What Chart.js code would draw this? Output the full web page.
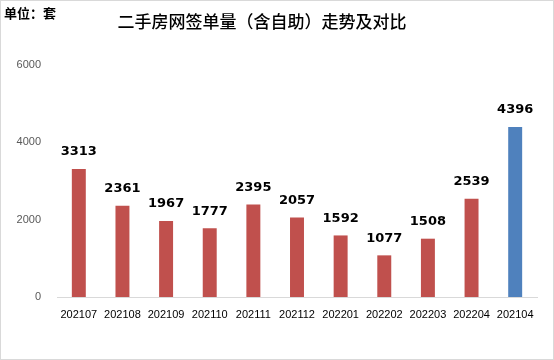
<!DOCTYPE html>
<html>
<head>
<meta charset="utf-8">
<script src="https://cdn.jsdelivr.net/npm/chart.js@4/dist/chart.umd.min.js"></script>
<style>
  html, body { margin: 0; padding: 0; background: #fff; }
  #wrap { width: 552px; height: 358px; border: 1px solid #d9d9d9; }
</style>
</head>
<body>
<div id="wrap"><canvas id="c" width="552" height="358"></canvas></div>
<script>
const months = ["202107","202108","202109","202110","202111","202112","202201","202202","202203","202204","202104"];
const deals = [3313, 2361, 1967, 1777, 2395, 2057, 1592, 1077, 1508, 2539, 4396];
const barColors = ["#C0504D","#C0504D","#C0504D","#C0504D","#C0504D","#C0504D","#C0504D","#C0504D","#C0504D","#C0504D","#4F81BD"];
const titleText = "二手房网签单量（含自助）走势及对比";
const unitText = "单位：套";

// 标题、单位、柱顶数值
const textPlugin = {
  id: "texts",
  afterDatasetsDraw(chart) {
    const ctx = chart.ctx;
    ctx.save();
    ctx.fillStyle = "#000";
    ctx.textBaseline = "middle";
    ctx.textAlign = "left";
    ctx.font = "bold 13px 'Noto Sans CJK SC'";
    ctx.fillText(unitText, 3, 12);
    ctx.textAlign = "center";
    ctx.font = "500 17px 'Noto Sans CJK SC'";
    ctx.fillText(titleText, 261, 21);
    ctx.font = "bold 13px 'DejaVu Sans', sans-serif";
    const meta = chart.getDatasetMeta(0);
    meta.data.forEach((bar, i) => {
      ctx.fillText(String(deals[i]), bar.x, bar.y - 17);
    });
    ctx.restore();
  }
};

new Chart(document.getElementById("c"), {
  type: "bar",
  data: {
    labels: months,
    datasets: [{
      data: deals,
      backgroundColor: barColors,
      categoryPercentage: 1,
      barPercentage: 0.32
    }]
  },
  options: {
    responsive: false,
    animation: false,
    layout: { padding: { top: 64, right: 16, bottom: 0, left: 0 } },
    plugins: {
      legend: { display: false },
      tooltip: { enabled: false }
    },
    scales: {
      x: {
        grid: { display: false },
        border: { color: "#d9d9d9" },
        ticks: { color: "#000", font: { size: 11, family: "'Liberation Sans', sans-serif" }, padding: 3, maxRotation: 0, autoSkip: false },
        afterFit(scale) { scale.height = 62; }
      },
      y: {
        min: 0, max: 6000,
        grid: { display: false },
        border: { display: false },
        ticks: { stepSize: 2000, color: "#595959", font: { size: 11, family: "'Liberation Sans', sans-serif" }, padding: 8, callback: v => String(v) },
        afterFit(scale) { scale.width = 56; }
      }
    }
  },
  plugins: [textPlugin]
});
</script>
</body>
</html>
